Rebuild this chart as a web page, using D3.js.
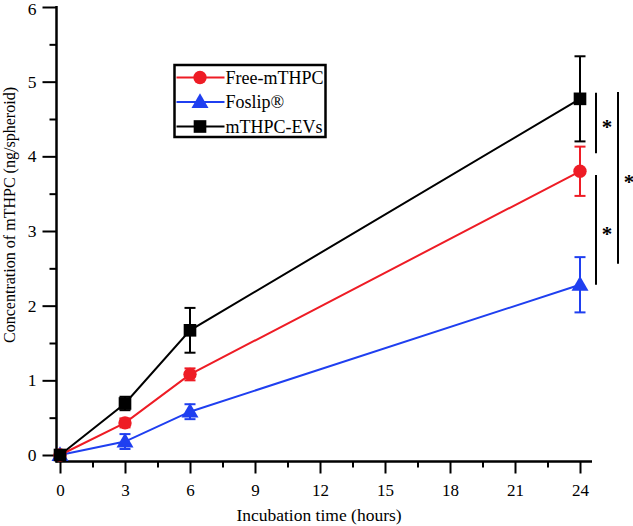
<!DOCTYPE html>
<html><head><meta charset="utf-8">
<script src="https://cdn.jsdelivr.net/npm/d3@7"></script>
<style>body{margin:0;background:#fff}svg{display:block}text{font-family:"Liberation Serif","Times New Roman",serif}</style>
</head><body>
<script>
const times = [0, 3, 6, 24];
const seriesNames = ["Free-mTHPC", "Foslip®", "mTHPC-EVs"];
const freeVals = [0, 0.43, 1.08, 3.80];
const freeErr = [0.03, 0.06, 0.08, 0.33];
const foslipVals = [0, 0.18, 0.58, 2.28];
const foslipErr = [0.03, 0.10, 0.10, 0.37];
const evsVals = [0, 0.69, 1.67, 4.77];
const evsErr = [0.03, 0.09, 0.30, 0.57];
const xTicks = [0, 3, 6, 9, 12, 15, 18, 21, 24];
const yTicks = [0, 1, 2, 3, 4, 5, 6];
const sigBrackets = [
  {from: 4.85, to: 4.04, label: "*"},
  {from: 3.75, to: 2.28, label: "*"},
  {from: 4.86, to: 2.56, label: "*"}
];

const W = 633, H = 526;
const svg = d3.select("body").append("svg").attr("width", W).attr("height", H);
const x = d3.scaleLinear().domain([0, 24]).range([60, 580]);
const y = d3.scaleLinear().domain([0, 6]).range([455, 7]);
const axisY = 461.5, axisX = 56.5;

// x axis
const gx = svg.append("g").attr("transform", `translate(0,${axisY})`);
gx.append("line").attr("x1", axisX - 1).attr("x2", 592).attr("stroke", "#000").attr("stroke-width", 2.5);
{
  const sub = gx.append("g").call(d3.axisBottom(x).tickValues(xTicks).tickSize(12).tickPadding(10).tickFormat(d3.format("d")));
  sub.select(".domain").remove();
  sub.selectAll("line").attr("stroke-width", 2);
  sub.selectAll("text").attr("font-size", 17).attr("fill", "#000").attr("font-family", "Liberation Serif");
  gx.append("g").call(d3.axisBottom(x).tickValues(d3.range(1.5, 24, 3)).tickSize(6).tickFormat(""))
    .call(s => { s.select(".domain").remove(); s.selectAll("line").attr("stroke-width", 2); });
}

// y axis
const gy = svg.append("g").attr("transform", `translate(${axisX},0)`);
gy.append("line").attr("y1", y(6) - 1).attr("y2", axisY + 1).attr("stroke", "#000").attr("stroke-width", 2.5);
{
  const sub = gy.append("g").call(d3.axisLeft(y).tickValues(yTicks).tickSize(14).tickPadding(6).tickFormat(d3.format("d")));
  sub.select(".domain").remove();
  sub.selectAll("line").attr("stroke-width", 2);
  sub.selectAll("text").attr("font-size", 17.5).attr("fill", "#000").attr("font-family", "Liberation Serif")
    .attr("dy", d => d === 6 ? "0.42em" : "0.32em");
  gy.append("g").call(d3.axisLeft(y).tickValues(d3.range(0.5, 6, 1)).tickSize(7).tickFormat(""))
    .call(s => { s.select(".domain").remove(); s.selectAll("line").attr("stroke-width", 2); });
}

// titles
svg.append("text").attr("x", 319).attr("y", 520.5).attr("text-anchor", "middle").attr("font-size", 17.5).text("Incubation time (hours)");
svg.append("text").attr("transform", `translate(15,215) rotate(-90)`).attr("text-anchor", "middle").attr("font-size", 17)
  .attr("textLength", 256).attr("lengthAdjust", "spacingAndGlyphs").text("Concentration of mTHPC (ng/spheroid)");

const series = [
  {name: seriesNames[0], vals: freeVals, err: freeErr, color: "#ee1c25", shape: d3.symbolCircle, size: 140},
  {name: seriesNames[1], vals: foslipVals, err: foslipErr, color: "#1f3ff0", shape: d3.symbolTriangle, size: 125},
  {name: seriesNames[2], vals: evsVals, err: evsErr, color: "#000000", shape: d3.symbolSquare, size: 160}
];
const line = d3.line().x((d, i) => x(times[i])).y(d => y(d));
[1, 0, 2].forEach(si => {
  const s = series[si];
  const g = svg.append("g");
  g.append("path").attr("d", line(s.vals)).attr("fill", "none").attr("stroke", s.color).attr("stroke-width", 2);
  s.vals.forEach((v, i) => {
    const cx = x(times[i]);
    const e = s.err[i];
    g.append("line").attr("x1", cx).attr("x2", cx).attr("y1", y(v + e)).attr("y2", y(v - e)).attr("stroke", s.color).attr("stroke-width", 2);
    [v + e, v - e].forEach(t => g.append("line").attr("x1", cx - 5.5).attr("x2", cx + 5.5).attr("y1", y(t)).attr("y2", y(t)).attr("stroke", s.color).attr("stroke-width", 2));
    g.append("path").attr("d", d3.symbol().type(s.shape).size(s.size)()).attr("transform", `translate(${cx},${y(v) + (s.shape === d3.symbolTriangle ? 1 : 0)})`).attr("fill", s.color);
  });
});

// significance brackets
const bx = [596, 596, 618];
sigBrackets.forEach((b, i) => {
  svg.append("line").attr("x1", bx[i]).attr("x2", bx[i]).attr("y1", y(b.from)).attr("y2", y(b.to)).attr("stroke", "#000").attr("stroke-width", 2);
  svg.append("text").attr("x", bx[i] + 11).attr("y", (y(b.from) + y(b.to)) / 2 + 11).attr("text-anchor", "middle").attr("font-size", 21).attr("font-weight", "bold").text(b.label);
});

// legend
const lg = svg.append("g").attr("transform", "translate(174.5,65)");
lg.append("rect").attr("width", 151).attr("height", 72).attr("fill", "#fff").attr("stroke", "#000").attr("stroke-width", 2.5);
series.forEach((s, i) => {
  const ry = 12.5 + i * 24.5;
  lg.append("line").attr("x1", 2).attr("x2", 50).attr("y1", ry).attr("y2", ry).attr("stroke", s.color).attr("stroke-width", 2);
  lg.append("path").attr("d", d3.symbol().type(s.shape).size(s.size)()).attr("transform", `translate(25.5,${ry + (s.shape === d3.symbolTriangle ? 1 : 0)})`).attr("fill", s.color);
  lg.append("text").attr("x", 51).attr("y", ry + 6).attr("font-size", 18).text(s.name);
});
</script>
</body></html>
